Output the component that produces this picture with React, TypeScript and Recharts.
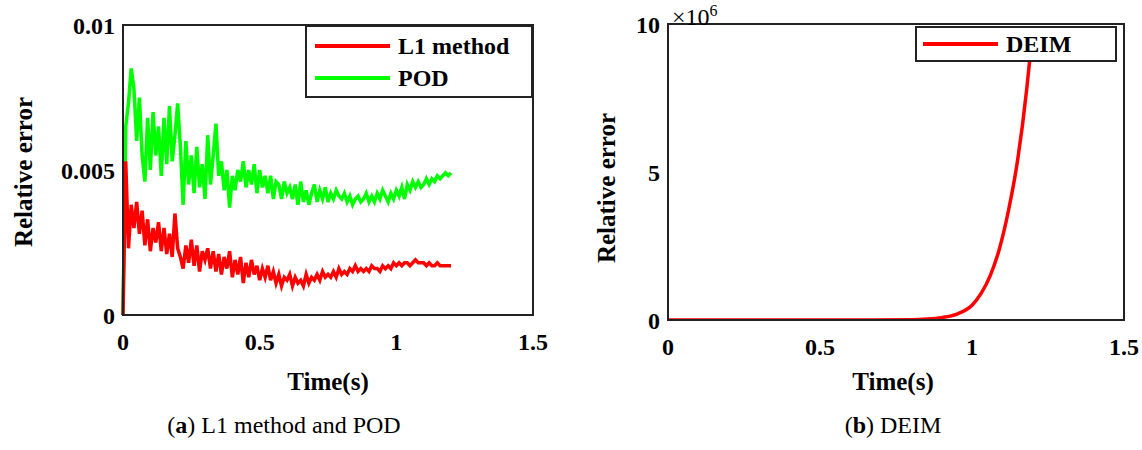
import React from 'react';
import { LineChart, Line, XAxis, YAxis } from 'recharts';

const timeStep = 0.01;
const podValues = [0,6.5,7.3,8.5,7.8,6.0,7.5,5.5,4.6,6.8,5.0,7.0,5.5,6.5,4.8,6.8,5.2,7.2,5.3,6.2,7.3,5.8,3.8,6.0,4.5,5.5,4.2,5.8,4.4,5.2,4.0,6.2,4.5,5.5,6.6,4.8,5.3,4.3,5.0,3.7,4.8,4.3,5.0,4.6,5.3,4.4,5.0,4.5,5.2,4.2,5.0,4.4,4.8,4.2,4.8,4.0,4.6,4.5,4.0,4.6,4.2,4.4,4.0,4.5,3.8,4.6,3.9,4.3,3.8,4.2,4.5,3.9,4.3,4.0,4.4,3.9,4.2,4.0,4.3,4.1,4.0,4.2,3.9,4.1,3.8,4.0,4.1,3.9,4.0,4.2,3.9,4.1,3.9,4.2,4.0,4.3,4.1,3.9,4.2,4.0,4.3,4.1,4.4,4.0,4.5,4.3,4.6,4.4,4.6,4.4,4.5,4.7,4.5,4.7,4.6,4.8,4.7,4.8,4.9,4.8,4.9];
const l1Values = [0,5.3,2.3,3.8,3.0,3.9,2.8,3.6,2.4,3.3,2.2,3.0,2.5,3.2,2.2,3.0,2.1,2.8,2.0,3.5,2.3,2.0,1.6,2.4,1.8,2.6,1.7,2.4,1.5,2.2,1.9,2.3,1.6,2.2,1.5,2.1,1.4,2.0,1.6,2.2,1.3,1.9,1.4,2.0,1.1,1.8,1.3,1.9,1.4,1.7,1.2,1.6,1.3,1.7,1.2,1.5,1.1,1.4,1.0,1.3,1.2,1.4,1.0,1.3,1.1,1.2,1.0,1.4,1.1,1.3,1.2,1.4,1.2,1.5,1.3,1.4,1.3,1.5,1.3,1.6,1.4,1.5,1.4,1.6,1.5,1.7,1.5,1.6,1.5,1.6,1.5,1.7,1.6,1.6,1.5,1.7,1.6,1.7,1.6,1.8,1.7,1.8,1.7,1.8,1.8,1.7,1.8,1.9,1.8,1.8,1.8,1.7,1.8,1.7,1.7,1.8,1.7,1.7,1.7,1.7,1.7];
const deimTimes = [0,0.2,0.4,0.6,0.8,0.85,0.9,0.95,1.0,1.03,1.06,1.09,1.12,1.15,1.18,1.19];
const deimValues = [0,0,0,0,0.01,0.03,0.08,0.2,0.5,0.9,1.5,2.4,3.7,5.4,7.8,8.8];
const xTicks = [0, 0.5, 1, 1.5];
const leftYTicks = [0, 0.005, 0.01];
const rightYTicks = [0, 5e6, 1e7];

const leftData = podValues.map((p, i) => ({ t: +(i * timeStep).toFixed(2), pod: p * 1e-3, l1: l1Values[i] * 1e-3 }));
const rightData = deimTimes.map((t, i) => ({ t, deim: deimValues[i] * 1e6 }));

const font = '"Liberation Serif", "DejaVu Serif", serif';
const tickStyle = { fontFamily: font, fontSize: 24, fontWeight: 'bold', fill: '#000' };
const axisLine = { stroke: '#222', strokeWidth: 2 };

const Box = ({ left, top, w, h }: any) => (
  <div style={{ position: 'absolute', left, top, width: w, height: h, border: '2px solid #222', boxSizing: 'border-box', pointerEvents: 'none' }} />
);

const LegendItem = ({ color, label }: any) => (
  <div style={{ display: 'flex', alignItems: 'center', height: 32 }}>
    <div style={{ width: 75, height: 4, background: color, marginRight: 8 }} />
    <span style={{ fontFamily: font, fontWeight: 'bold', fontSize: 24 }}>{label}</span>
  </div>
);

export default function App() {
  return (
    <div style={{ position: 'absolute', left: 0, top: 0, width: 1142, height: 450, background: '#fff' }}>
      <div style={{ position: 'absolute', left: 0, top: 0 }}>
        <LineChart width={560} height={370} data={leftData} margin={{ left: 63, top: 25, right: 27, bottom: 15 }}>
          <XAxis dataKey="t" type="number" domain={[0, 1.5]} ticks={xTicks} tick={{ ...tickStyle, dy: 10 }} axisLine={axisLine} tickLine={false} height={40} tickFormatter={(v) => String(v)} />
          <YAxis type="number" domain={[0, 0.01]} ticks={leftYTicks} tick={tickStyle} axisLine={axisLine} tickLine={false} width={60} tickFormatter={(v) => String(v)} allowDataOverflow />
          <Line dataKey="pod" stroke="#00ff00" strokeWidth={3.5} dot={false} isAnimationActive={false} />
          <Line dataKey="l1" stroke="#ff0000" strokeWidth={3.5} dot={false} isAnimationActive={false} />
        </LineChart>
      </div>
      <Box left={122} top={24} w={412} h={292} />
      <div style={{ position: 'absolute', left: 305, top: 25, width: 228, height: 73, border: '2px solid #222', boxSizing: 'border-box', background: '#fff', padding: '3px 0 0 8px' }}>
        <LegendItem color="#ff0000" label="L1 method" />
        <LegendItem color="#00ff00" label="POD" />
      </div>
      <div style={{ position: 'absolute', left: 24, top: 172, transform: 'translate(-50%,-50%) rotate(-90deg)', fontFamily: font, fontWeight: 'bold', fontSize: 25, whiteSpace: 'nowrap' }}>Relative error</div>
      <div style={{ position: 'absolute', left: 328, top: 368, transform: 'translateX(-50%)', fontFamily: font, fontWeight: 'bold', fontSize: 25 }}>Time(s)</div>
      <div style={{ position: 'absolute', left: 284, top: 412, transform: 'translateX(-50%)', fontFamily: font, fontSize: 24, whiteSpace: 'nowrap' }}>(<b>a</b>) L1 method and POD</div>

      <div style={{ position: 'absolute', left: 560, top: 0 }}>
        <LineChart width={582} height={370} data={rightData} margin={{ left: 48, top: 24, right: 18, bottom: 10 }}>
          <XAxis dataKey="t" type="number" domain={[0, 1.5]} ticks={xTicks} tick={{ ...tickStyle, dy: 10 }} axisLine={axisLine} tickLine={false} height={40} tickFormatter={(v) => String(v)} />
          <YAxis type="number" domain={[0, 1e7]} ticks={rightYTicks} tick={tickStyle} axisLine={axisLine} tickLine={false} width={60} tickFormatter={(v) => String(v / 1e6)} allowDataOverflow />
          <Line dataKey="deim" type="monotone" stroke="#ff0000" strokeWidth={3.5} dot={false} isAnimationActive={false} />
        </LineChart>
      </div>
      <Box left={667} top={23} w={458} h={298} />
      <div style={{ position: 'absolute', left: 672, top: 2, fontFamily: font, fontSize: 24 }}>×10<sup style={{ fontSize: 16 }}>6</sup></div>
      <div style={{ position: 'absolute', left: 915, top: 26, width: 202, height: 36, border: '2px solid #222', boxSizing: 'border-box', background: '#fff', padding: '0 0 0 6px' }}>
        <LegendItem color="#ff0000" label="DEIM" />
      </div>
      <div style={{ position: 'absolute', left: 607, top: 188, transform: 'translate(-50%,-50%) rotate(-90deg)', fontFamily: font, fontWeight: 'bold', fontSize: 25, whiteSpace: 'nowrap' }}>Relative error</div>
      <div style={{ position: 'absolute', left: 893, top: 368, transform: 'translateX(-50%)', fontFamily: font, fontWeight: 'bold', fontSize: 25 }}>Time(s)</div>
      <div style={{ position: 'absolute', left: 893, top: 412, transform: 'translateX(-50%)', fontFamily: font, fontSize: 24, whiteSpace: 'nowrap' }}>(<b>b</b>) DEIM</div>
    </div>
  );
}
